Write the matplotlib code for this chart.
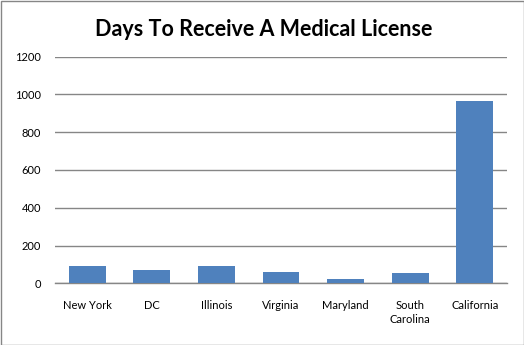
import matplotlib
matplotlib.use("Agg")
import matplotlib.pyplot as plt

states = ["New York", "DC", "Illinois", "Virginia", "Maryland", "South\nCarolina", "California"]
days = [92, 70, 92, 60, 23, 55, 965]
yticks = [0, 200, 400, 600, 800, 1000, 1200]

plt.rcParams['font.family'] = ['Lato', 'DejaVu Sans']

fig = plt.figure(figsize=(5.24, 3.45), dpi=100)
ax = fig.add_axes([55/524, 1-283.3/345, (507-55)/524, (283.3-56.7)/345])

x = range(len(states))
ax.bar(x, days, width=0.57, color="#4F81BD", zorder=3)
ax.set_xlim(-0.5, len(states) - 0.5)
ax.set_ylim(0, 1200)
ax.set_yticks(yticks)
ax.set_yticklabels([str(v) for v in yticks], fontsize=8)
ax.set_xticks(list(x))
ax.set_xticklabels(states, fontsize=8, linespacing=1.3, va="top")
ax.tick_params(axis="both", length=0)
ax.tick_params(axis="y", pad=10)
ax.tick_params(axis="x", pad=12)
ax.grid(axis="y", color="#868686", linewidth=1, zorder=0)
for s in ["top", "right", "left"]:
    ax.spines[s].set_visible(False)
ax.spines["bottom"].set_color("#868686")
ax.spines["bottom"].set_linewidth(1)

fig.text(264/524, 1-30/345, "Days To Receive A Medical License", ha="center", va="center",
         fontsize=15.5, fontweight="bold")

border = plt.Rectangle((0.5/524, 0.5/345), 1-1/524, 1-1/345, transform=fig.transFigure,
                       fill=False, edgecolor="#868686", linewidth=1)
fig.patches.append(border)

fig.savefig("out.png", dpi=100)
